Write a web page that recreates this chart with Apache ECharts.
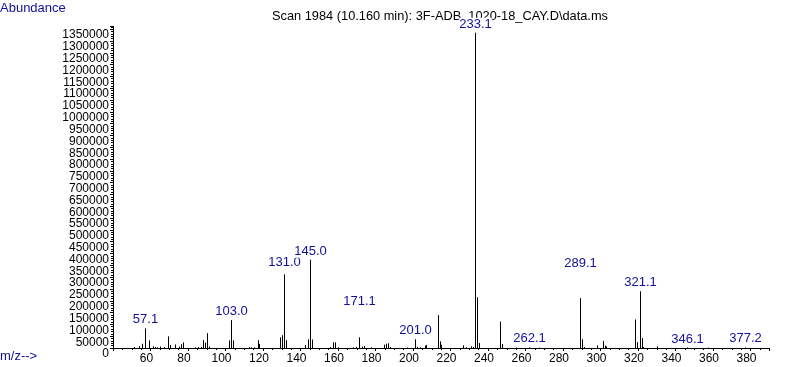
<!DOCTYPE html>
<html>
<head>
<meta charset="utf-8">
<script src="https://cdn.jsdelivr.net/npm/echarts@6/dist/echarts.min.js"></script>
<style>
html,body{margin:0;padding:0;background:#fff;}
#chart{width:787px;height:367px;}
</style>
</head>
<body>
<div id="chart"></div>
<script>
// m/z values of the peaks
const mzValues = [
  51.2, 53.7, 55.5, 57.1, 59.2, 61.4, 62.5, 63.7, 65.3, 67.3,
  69.2, 70.6, 73.3, 75.0, 76.3, 77.4, 83.5, 85.3, 86.7, 88.2,
  89.1, 90.2, 91.3, 101.9, 103.0, 104.0, 112.6, 113.5, 115.0, 117.1,
  118.0, 129.1, 130.0, 131.0, 132.3, 142.6, 144.0, 145.0, 146.2, 155.6,
  157.2, 158.2, 160.0, 168.2, 169.7, 171.1, 172.6, 173.8, 177.4, 184.6,
  185.5, 186.4, 187.6, 197.0, 201.0, 202.0, 203.6, 206.4, 207.1, 213.3,
  214.4, 215.1, 226.4, 228.5, 231.0, 232.0, 233.1, 234.1, 235.2, 246.6,
  247.2, 255.0, 262.1, 267.0, 289.1, 290.2, 291.2, 298.2, 301.4, 302.3,
  302.9, 318.4, 319.5, 321.1, 322.0, 322.8, 330.2, 346.1, 357.4, 377.2
];
// abundance of each peak
const abundanceValues = [
  4000, 8000, 18000, 83000, 32000, 7000, 4000, 3000, 6000, 4000,
  49000, 13000, 15000, 6000, 16000, 24000, 3000, 4000, 4000, 34000,
  23000, 63000, 6000, 32000, 118000, 32000, 3000, 3000, 3000, 33000,
  17000, 45000, 54000, 312000, 33000, 12000, 37000, 374000, 36000, 4000,
  24000, 24000, 3000, 3000, 5000, 45000, 6000, 8000, 3000, 14000,
  18000, 20000, 4000, 2000, 37000, 5000, 3000, 10000, 13000, 139000,
  28000, 14000, 11000, 3000, 7000, 4000, 1335000, 215000, 21000, 112000,
  17000, 2000, 2500, 2000, 211000, 37000, 4000, 11000, 30000, 10000,
  7000, 121000, 25000, 240000, 42000, 4000, 7000, 2000, 2000, 2500
];
// peaks that carry an m/z label
const labelledPeaks = ['57.1','103.0','131.0','145.0','171.1','201.0','233.1','262.1','289.1','321.1','346.1','377.2'];
// axis ticks
const xMin = 40, xMax = 390, xStep = 20;
const yMin = 0, yMax = 1362000, yStep = 50000;
const titleText = 'Scan 1984 (10.160 min): 3F-ADB_1020-18_CAY.D\\data.ms';
const yAxisName = 'Abundance';
const xAxisName = 'm/z-->';

// extra lift (px) of a few peak labels, as placed in the original plot
const labelLift = {'171.1': 27, '289.1': 26, '131.0': 3};

const peakData = mzValues.map((m, i) => [m, abundanceValues[i]]);
const labelData = labelledPeaks.map(t => {
  const i = mzValues.indexOf(parseFloat(t));
  return [mzValues[i], abundanceValues[i], t];
});

const NAVY = '#10109a';
const chart = echarts.init(document.getElementById('chart'), null, {renderer: 'canvas'});
chart.setOption({
  animation: false,
  backgroundColor: '#fff',
  grid: {left: 113, right: 17.75, top: 26.3, bottom: 19},
  graphic: [
    {type: 'text', left: 0, top: 2, style: {text: yAxisName, fill: NAVY, font: '13px "Liberation Sans", Arial, sans-serif'}},
    {type: 'text', left: 0, top: 350, style: {text: xAxisName, fill: NAVY, font: '13px "Liberation Sans", Arial, sans-serif'}},
    {type: 'text', left: 272, top: 10, style: {text: titleText, fill: '#000', font: '12.8px "Liberation Sans", Arial, sans-serif'}}
  ],
  xAxis: {
    type: 'value', min: xMin, max: xMax, interval: xStep,
    axisLine: {lineStyle: {color: '#000', width: 1}},
    axisTick: {show: true, length: 3, lineStyle: {color: '#000'}},
    minorTick: {show: true, splitNumber: 4, length: 2, lineStyle: {color: '#000'}},
    splitLine: {show: false},
    axisLabel: {color: '#000', fontSize: 12, fontFamily: '"Liberation Sans Narrow", "Liberation Sans", sans-serif', margin: 5, showMinLabel: false, showMaxLabel: false, padding: [0, 8, 0, 0]}
  },
  yAxis: {
    type: 'value', min: yMin, max: yMax, interval: yStep,
    axisLine: {show: true, lineStyle: {color: '#000', width: 1}},
    axisTick: {show: true, length: 3, lineStyle: {color: '#000'}},
    minorTick: {show: true, splitNumber: 5, length: 2, lineStyle: {color: '#000'}},
    splitLine: {show: false},
    axisLabel: {color: '#000', fontSize: 12, fontFamily: '"Liberation Sans", Arial, sans-serif', margin: 4, verticalAlign: 'top', showMaxLabel: false,
      formatter: v => String(Math.round(v))}
  },
  series: [
    {
      type: 'custom',
      data: peakData,
      clip: false,
      renderItem: function (params, api) {
        const p0 = api.coord([api.value(0), 0]);
        const p1 = api.coord([api.value(0), api.value(1)]);
        const cx = Math.round(p0[0]) + 0.5;
        return {type: 'line', shape: {x1: cx, y1: p0[1], x2: cx, y2: p1[1]}, style: {stroke: '#000', lineWidth: 1}};
      }
    },
    {
      type: 'custom',
      data: labelData,
      clip: false,
      z: 5,
      renderItem: function (params, api) {
        const p1 = api.coord([api.value(0), api.value(1)]);
        const t = labelData[params.dataIndex][2];
        return {
          type: 'text',
          x: Math.round(p1[0]) + 0.5, y: p1[1] - 2 - (labelLift[t] || 0),
          style: {text: t, fill: NAVY, font: '13px "Liberation Sans", Arial, sans-serif',
            align: 'center', verticalAlign: 'bottom', backgroundColor: '#fff'}
        };
      }
    }
  ]
});
</script>
</body>
</html>
